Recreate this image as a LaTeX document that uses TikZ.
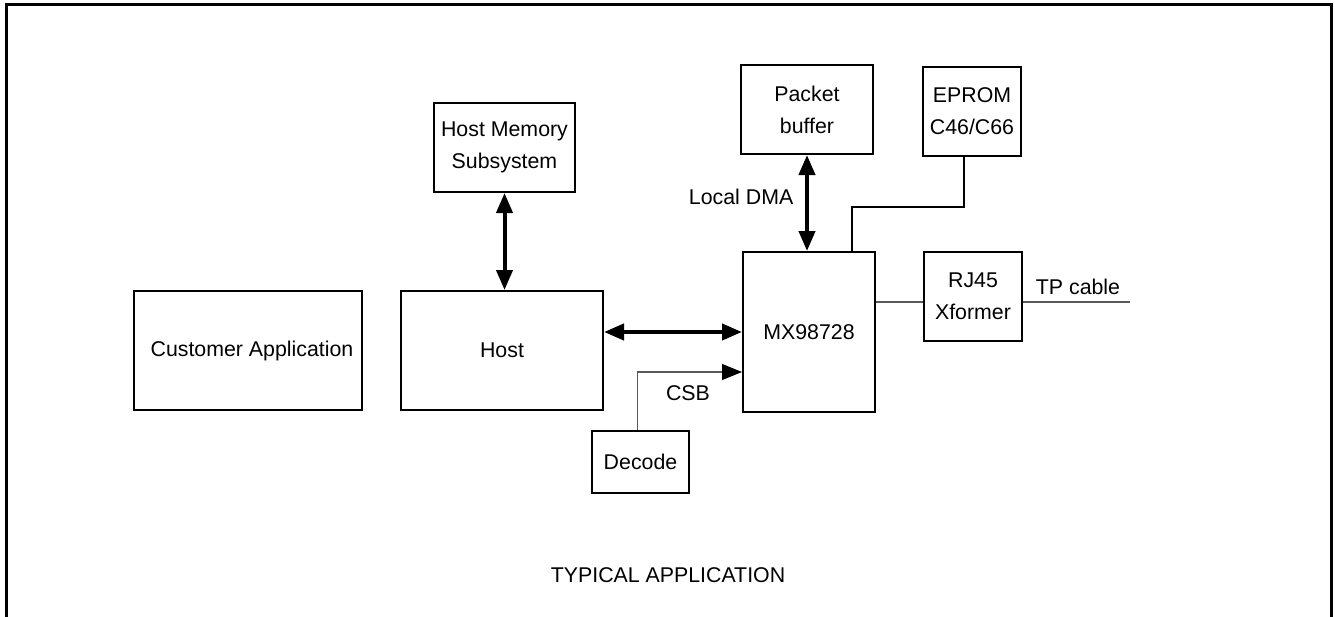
\documentclass[tikz,border=0pt]{standalone}
\usepackage{fontspec}
\setmainfont{Liberation Sans}
\usetikzlibrary{arrows.meta}

\begin{document}
\begin{tikzpicture}[x=0.75pt,y=-0.75pt,
	font=\fontsize{16}{24}\selectfont,
	blk/.style={draw, line width=1.5pt, inner sep=0pt, align=center},
	bus/.style={line width=3pt, {Triangle[length=15pt,width=12pt]}-{Triangle[length=15pt,width=12pt]}},
	wire/.style={line width=1.5pt},
	sig/.style={line width=0.8pt, draw=black!65}]
			%%%%% START %%%%%
			\useasboundingbox (0,0) rectangle (1335,617);
			\draw[line width=2.5pt] (6.5,617) |- (1331.5,4.5) -- (1331.5,617);
			
			\node[blk, minimum width=171pt, minimum height=89.25pt] (cust) at (248,350.5) {\hspace*{6pt}Customer Application};
			\node[blk, minimum width=151.5pt, minimum height=89.25pt] (host) at (502,350.5) {Host};
			\node[blk, minimum width=105.75pt, minimum height=66.75pt] (hostmem) at (504.5,147.5) {Host Memory\\Subsystem};
			
			\node[blk, minimum width=99pt, minimum height=66.75pt] (pktbuf) at (807,109.5) {Packet\\buffer};
			\node[blk, minimum width=73.5pt, minimum height=66.75pt] (eprom) at (972,111.5) {EPROM\\C46/C66};
			\node[blk, minimum width=99pt, minimum height=120pt] (mx) at (809,332) {MX98728};
			\node[blk, minimum width=73.5pt, minimum height=66.75pt] (rj) at (973,296.5) {RJ45\\Xformer};
			\node[blk, minimum width=72.75pt, minimum height=46.5pt] (decode) at (640.5,462) {Decode};
			
			\draw[bus] (hostmem.south) -- (hostmem.south |- host.north);
			\draw[bus] (pktbuf.south) -- (pktbuf.south |- mx.north);
			\draw[bus] (mx.west) -- (mx.west -| host.east);
			\node[anchor=east] (dma) at (798,197) {Local DMA};
			
			\coordinate (bend) at (852,207);
			\draw[wire] ([xshift=-6pt]eprom.south) |- (bend) -- (bend |- mx.north);
			
			\coordinate (tp) at (1130,302);
			\draw[sig] (mx.east |- tp) -- (rj.west |- tp);
			\draw[sig] (rj.east |- tp) -- (tp);
			\node (tplbl) at (1078,287) {TP cable};
			
			\draw[sig, -{Triangle[length=15pt,width=12pt,color=black]}] ([xshift=-2.5pt]decode.north) |- ([yshift=-30pt]mx.west);
			\node (csb) at (688,393) {CSB};
			
			\node (title) at (668,575) {TYPICAL APPLICATION};
			%%%%% END %%%%%
\end{tikzpicture}
\end{document}
